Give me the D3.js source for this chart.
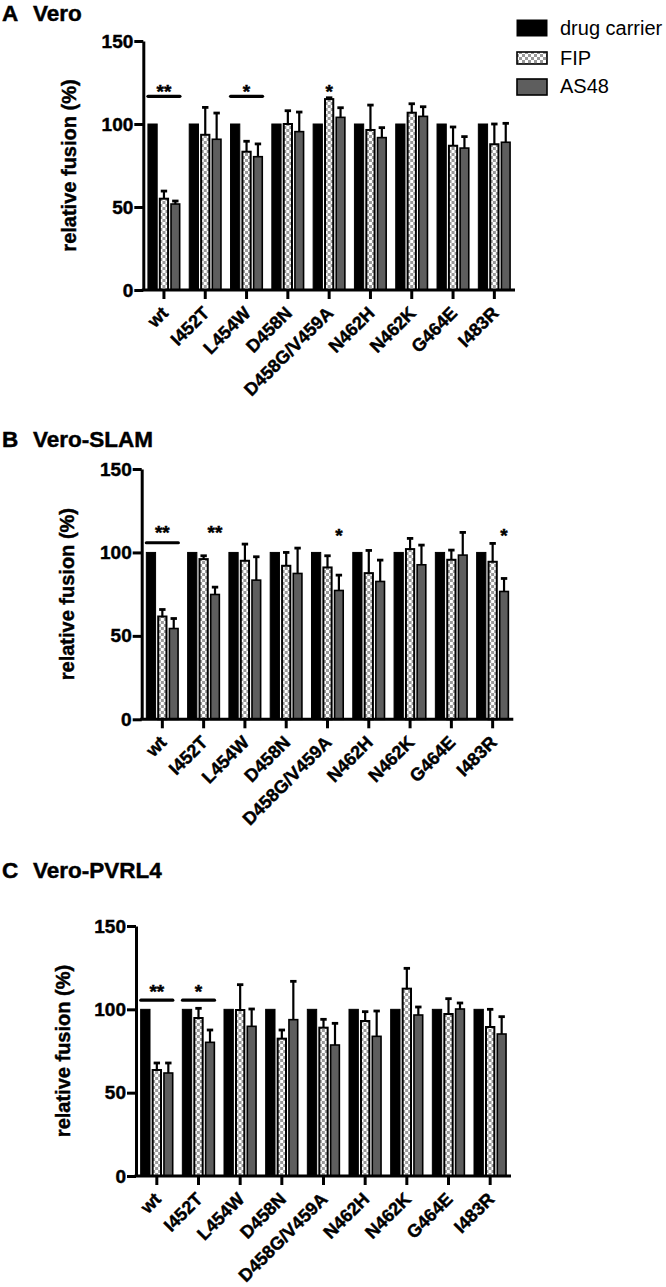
<!DOCTYPE html>
<html><head><meta charset="utf-8">
<script src="https://cdn.jsdelivr.net/npm/d3@7"></script>
<style>body{margin:0;background:#fff}svg{display:block;font-family:"Liberation Sans",Arial,Helvetica,sans-serif}</style>
</head><body><svg id="c" width="666" height="1287"></svg>
<script>
// ---------- data ----------
const categories = ["wt","I452T","L454W","D458N","D458G/V459A","N462H","N462K","G464E","I483R"];
const series = ["drug carrier","FIP","AS48"];
const yTicks = [0,50,100,150];

const carrierValues = [100,100,100,100,100,100,100,100,100];

const veroFIP      = [55,93.5,83.3,100,115,96.4,106.8,86.9,87.8];
const veroFIPErr   = [4.6,16.5,6.3,8,0.8,15,5.4,11.3,12.2];
const veroAS48     = [51.8,90.8,80.3,95.4,104,91.8,104.6,85.5,89];
const veroAS48Err  = [1.8,15.8,7.7,11.8,5.8,6,5.8,6.9,11.4];

const slamFIP      = [61.6,96,95,92,91,87.6,102,95.6,94.4];
const slamFIPErr   = [4.2,2,10,8,7,13.6,6.4,5.8,11];
const slamAS48     = [54.4,74.8,83.4,87.4,77.2,82.6,92.6,98.4,76.6];
const slamAS48Err  = [6,4.4,14,15.2,9.2,12.8,11.8,13.6,7.8];

const pvrlFIP      = [63.6,94.8,99.6,82.4,89,93,112.4,97.2,89.4];
const pvrlFIPErr   = [4.2,5.8,15.2,5.2,5,5.6,12.2,9.2,10.6];
const pvrlAS48     = [61.8,80.2,89.8,93.8,78.6,83.8,96.6,100.2,85.2];
const pvrlAS48Err  = [6,7.4,10.4,23,13,15.2,4.8,3.6,10.4];

// significance marks: category, label, over (group / series), star value, bar line value (null = none)
const veroSig = [["wt","**","group",121.7,116.7],["L454W","*","group",121.7,116.7],["D458G/V459A","*","FIP",121.7,null]];
const slamSig = [["wt","**","group",113.8,105.8],["I452T","**","AS48",113.8,null],["D458G/V459A","*","AS48",112,null],["I483R","*","AS48",112,null]];
const pvrlSig = [["wt","**","group",113,105.5],["I452T","*","group",113,105.5]];

const panels = [
  {letter:"A", name:"Vero", fip:veroFIP, fipErr:veroFIPErr, as:veroAS48, asErr:veroAS48Err, sig:veroSig,
   x0:143.3, x1:515, y0:290, y1:41, titleY:21, labelX:69},
  {letter:"B", name:"Vero-SLAM", fip:slamFIP, fipErr:slamFIPErr, as:slamAS48, asErr:slamAS48Err, sig:slamSig,
   x0:141.7, x1:513.3, y0:719.3, y1:469, titleY:447, labelX:67},
  {letter:"C", name:"Vero-PVRL4", fip:pvrlFIP, fipErr:pvrlFIPErr, as:pvrlAS48, asErr:pvrlAS48Err, sig:pvrlSig,
   x0:136, x1:511, y0:1176, y1:926, titleY:878, labelX:63}
];

const svg = d3.select("#c");
const defs = svg.append("defs");
const pat = defs.append("pattern").attr("id","checker").attr("patternUnits","userSpaceOnUse")
  .attr("width",6).attr("height",6);
pat.append("rect").attr("width",6).attr("height",6).attr("fill","#fff");
pat.append("rect").attr("x",0).attr("y",0).attr("width",3).attr("height",3).attr("fill","#999");
pat.append("rect").attr("x",3).attr("y",3).attr("width",3).attr("height",3).attr("fill","#999");

const fills = {"drug carrier":"#000","FIP":"url(#checker)","AS48":"#5e5e5e"};
const strokeW = {"drug carrier":1,"FIP":2,"AS48":1.6};
const heavy = sel => sel.attr("font-weight","bold").attr("stroke","#000").attr("stroke-width",0.45).attr("fill","#000");

panels.forEach(p => {
  const g = svg.append("g");
  const x = d3.scaleBand().domain(categories).range([p.x0,p.x1]).paddingInner(0.2).paddingOuter(0.1);
  const xs = d3.scaleBand().domain(series).range([0,x.bandwidth()]).paddingInner(0.1);
  const y = d3.scaleLinear().domain([0,150]).range([p.y0,p.y1]);
  const tickX = c => x(c) + x.bandwidth()/2;

  // title
  heavy(g.append("text").attr("x",2).attr("y",p.titleY).attr("font-size",22.5).text(p.letter));
  heavy(g.append("text").attr("x",33).attr("y",p.titleY).attr("font-size",22.5).text(p.name));

  // bars
  const rows = categories.map((c,i)=>({c, vals:[
    {s:"drug carrier", v:carrierValues[i], e:0},
    {s:"FIP", v:p.fip[i], e:p.fipErr[i]},
    {s:"AS48", v:p.as[i], e:p.asErr[i]}]}));
  const grp = g.selectAll("g.grp").data(rows).join("g").attr("transform",d=>`translate(${x(d.c)},0)`);
  grp.selectAll("line.err").data(d=>d.vals.filter(v=>v.e>0)).join("line")
    .attr("x1",d=>xs(d.s)+xs.bandwidth()/2).attr("x2",d=>xs(d.s)+xs.bandwidth()/2)
    .attr("y1",d=>y(d.v)).attr("y2",d=>y(d.v+d.e)).attr("stroke","#000").attr("stroke-width",2.2);
  grp.selectAll("line.cap").data(d=>d.vals.filter(v=>v.e>0)).join("line")
    .attr("x1",d=>xs(d.s)+xs.bandwidth()/2-3.2).attr("x2",d=>xs(d.s)+xs.bandwidth()/2+3.2)
    .attr("y1",d=>y(d.v+d.e)).attr("y2",d=>y(d.v+d.e)).attr("stroke","#000").attr("stroke-width",2.8);
  grp.selectAll("rect").data(d=>d.vals).join("rect")
    .attr("x",d=>xs(d.s)+strokeW[d.s]/2).attr("width",d=>xs.bandwidth()-strokeW[d.s])
    .attr("y",d=>y(d.v)).attr("height",d=>y(0)-y(d.v))
    .attr("fill",d=>fills[d.s]).attr("stroke","#000").attr("stroke-width",d=>strokeW[d.s]);

  // axes
  const ya = g.append("g").attr("transform",`translate(${p.x0},0)`)
    .call(d3.axisLeft(y).tickValues(yTicks).tickSize(9).tickPadding(1).tickSizeOuter(0));
  ya.select(".domain").attr("stroke-width",3);
  ya.selectAll(".tick line").attr("stroke-width",3);
  heavy(ya.selectAll(".tick text").attr("font-size",19)
    .attr("font-family","Liberation Sans, Arial, sans-serif"));

  const xa = g.append("g").attr("transform",`translate(0,${p.y0})`)
    .call(d3.axisBottom(x).tickSize(9).tickSizeOuter(0).tickPadding(0));
  xa.select(".domain").attr("stroke-width",3).attr("d",`M${p.x0-1.5},0H${p.x1}`);
  xa.selectAll(".tick line").attr("stroke-width",3);
  heavy(xa.selectAll(".tick text").attr("font-size",18)
    .attr("font-family","Liberation Sans, Arial, sans-serif")
    .attr("text-anchor","end").attr("dy",null).attr("dominant-baseline","central")
    .attr("transform","translate(1,20) rotate(-45)").attr("x",0).attr("y",0));

  // y label
  heavy(g.append("text").attr("transform",`translate(${p.labelX},${(p.y0+p.y1)/2}) rotate(-90)`)
    .attr("text-anchor","middle").attr("dominant-baseline","central")
    .attr("font-size",20).text("relative fusion (%)"));

  // significance
  p.sig.forEach(([c,lab,over,sv,lv])=>{
    const cx = over==="group" ? tickX(c) : x(c)+xs(over)+xs.bandwidth()/2;
    if (lv!==null) {
      g.append("line").attr("x1",tickX(c)-16).attr("x2",tickX(c)+16).attr("y1",y(lv)).attr("y2",y(lv))
        .attr("stroke","#000").attr("stroke-width",3.2).attr("stroke-linecap","round");
    }
    heavy(g.append("text").attr("x",cx).attr("y",y(sv)+10).attr("text-anchor","middle")
      .attr("font-size",19).text(lab));
  });
});

// legend
const legY = [{s:"drug carrier",y:20,h:16,ty:35},{s:"FIP",y:52,h:12,ty:65},{s:"AS48",y:79,h:16,ty:93}];
const leg = svg.append("g");
leg.selectAll("rect").data(legY).join("rect").attr("x",517).attr("y",d=>d.y).attr("width",30).attr("height",d=>d.h)
  .attr("fill",d=>fills[d.s]).attr("stroke","#000").attr("stroke-width",d=>d.s==="drug carrier"?1:1.6);
leg.selectAll("text").data(legY).join("text").attr("x",560).attr("y",d=>d.ty).attr("font-size",20).text(d=>d.s);
</script></body></html>
